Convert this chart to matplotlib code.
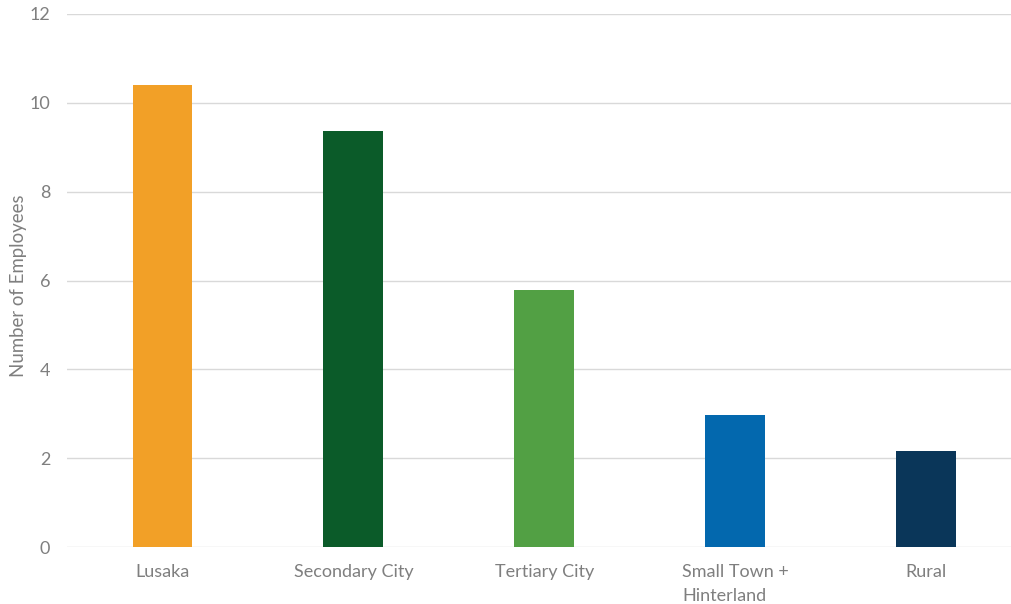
import matplotlib.pyplot as plt

# employees per firm by location
categories = ["Lusaka", "Secondary City", "Tertiary City", "Small Town +\nHinterland", "Rural"]
employees = [10.4, 9.37, 5.79, 2.97, 2.17]
colors = ["#F2A027", "#0B5B29", "#52A044", "#0368AE", "#0A3659"]
yticks = [0, 2, 4, 6, 8, 10, 12]

plt.rcParams["font.family"] = ["Lato", "DejaVu Sans"]
text_color = "#7F7F7F"

fig = plt.figure(figsize=(10.12, 6.04), dpi=100)
ax = fig.add_axes([67 / 1012, 57 / 604, 945 / 1012, 533 / 604])

x = range(len(categories))
ax.bar(x, employees, width=0.314, color=colors, zorder=3)

ax.set_xlim(-0.5, 4.448)
ax.set_ylim(0, 12)
ax.set_yticks(yticks)
ax.set_xticks(list(x))
ax.set_xticklabels(categories, linespacing=1.65, va="top", multialignment="left",
                   fontsize=13.4)
ax.grid(axis="y", color="#D9D9D9", linewidth=1, zorder=0)
for s in ax.spines.values():
    s.set_visible(False)
ax.tick_params(axis="both", length=0, labelsize=13, colors=text_color)
ax.tick_params(axis="x", pad=12)
ax.tick_params(axis="y", pad=12)
ax.set_ylabel("Number of Employees", fontsize=13.4, color=text_color,
              va="center")
ax.yaxis.set_label_coords(-0.051, 0.49)

fig.savefig("out.png", dpi=100)
